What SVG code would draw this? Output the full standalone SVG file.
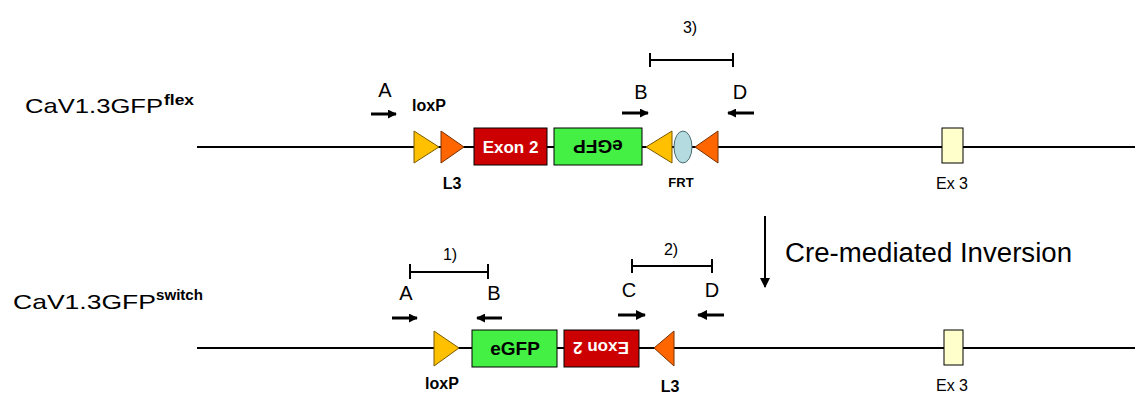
<svg xmlns="http://www.w3.org/2000/svg" width="1135" height="396" viewBox="0 0 1135 396">
<style>
text{font-family:"Liberation Sans",Arial,sans-serif;fill:#000}
.lbl{font-size:20px}
.num{font-size:16px}
.dna{stroke:#000;stroke-width:2;fill:none}
.br{stroke:#000;stroke-width:2;fill:none}
.pr{stroke:#000;stroke-width:3;fill:none}
.yel{fill:#FFC000;stroke:#7a5a00;stroke-width:1}
.ora{fill:#FF6600;stroke:#7a3000;stroke-width:1}
.red{fill:#CC0000;stroke:#000;stroke-width:1}
.grn{fill:#44F044;stroke:#000;stroke-width:1}
.ex3{fill:#FFFFCC;stroke:#000;stroke-width:1}
.frt{fill:#B4DCE0;stroke:#4a6a70;stroke-width:1}
.wt{fill:#fff;font-size:17px;font-weight:bold}
.bk{font-size:19px;font-weight:bold}
.tag{font-size:16px;font-weight:bold}
.ex{font-size:16px}
</style>
<defs>
<marker id="ah" viewBox="0 0 10 10" refX="9" refY="5" markerWidth="9" markerHeight="9" markerUnits="userSpaceOnUse" orient="auto"><path d="M0,0 L10,5 L0,10 Z" fill="#000"/></marker>
<marker id="ah2" viewBox="0 0 10 10" refX="9" refY="5" markerWidth="10" markerHeight="10" markerUnits="userSpaceOnUse" orient="auto"><path d="M0,0 L10,5 L0,10 Z" fill="#000"/></marker>
</defs>

<g id="labels">
<text x="25" y="113" font-size="21" textLength="138" lengthAdjust="spacingAndGlyphs">CaV1.3GFP</text>
<text x="164" y="105" font-size="15" font-weight="bold" textLength="30" lengthAdjust="spacingAndGlyphs">flex</text>
<text x="13" y="309" font-size="21" textLength="143" lengthAdjust="spacingAndGlyphs">CaV1.3GFP</text>
<text x="156" y="300" font-size="15" font-weight="bold" textLength="47" lengthAdjust="spacingAndGlyphs">switch</text>
</g>

<g id="connectors">
<line class="dna" x1="197" y1="147" x2="1135" y2="147"/>
<line class="dna" x1="197" y1="348" x2="1135" y2="348"/>
<line stroke="#000" stroke-width="2" x1="765" y1="216" x2="765" y2="287" marker-end="url(#ah2)"/>
</g>

<g id="cre-label"><text x="785" y="262" font-size="27" textLength="287" lengthAdjust="spacingAndGlyphs">Cre-mediated Inversion</text></g>

<g id="top-loxP1"><polygon class="yel" points="414,131 414,163 439,147"/></g>
<g id="top-L3a"><polygon class="ora" points="441,131 441,163 464,147"/></g>
<g id="top-exon2"><rect class="red" x="474" y="128" width="73" height="37"/><text class="wt" x="510.5" y="153" text-anchor="middle">Exon 2</text></g>
<g id="top-egfp"><rect class="grn" x="554" y="128" width="88" height="37"/><text class="bk" x="0" y="0" text-anchor="middle" transform="translate(598,140) rotate(180)">eGFP</text></g>
<g id="top-loxP2"><polygon class="yel" points="672,131 672,163 646,147"/></g>
<g id="top-FRT"><ellipse class="frt" cx="683" cy="147" rx="9" ry="16"/></g>
<g id="top-L3b"><polygon class="ora" points="718,131 718,163 695,147"/></g>
<g id="top-ex3"><rect class="ex3" x="942" y="128" width="21" height="35"/></g>

<g id="top-texts">
<text class="tag" x="429" y="111" text-anchor="middle">loxP</text>
<text class="tag" x="452" y="189" text-anchor="middle">L3</text>
<text x="681" y="187" font-size="13" font-weight="bold" text-anchor="middle">FRT</text>
<text class="ex" x="952" y="189" text-anchor="middle">Ex 3</text>
</g>

<g id="top-primers">
<text class="lbl" x="385" y="97" text-anchor="middle">A</text>
<line class="pr" x1="371" y1="114" x2="396" y2="114" marker-end="url(#ah)"/>
<text class="lbl" x="641" y="99" text-anchor="middle">B</text>
<line class="pr" x1="622" y1="113" x2="648" y2="113" marker-end="url(#ah)"/>
<text class="lbl" x="740" y="99" text-anchor="middle">D</text>
<line class="pr" x1="754" y1="113" x2="728" y2="113" marker-end="url(#ah)"/>
<path class="br" d="M650,60 H733 M650,53 V67 M733,53 V67"/>
<text class="num" x="690" y="33" text-anchor="middle">3)</text>
</g>

<g id="bot-loxP"><polygon class="yel" points="434,331 434,366 459,348"/></g>
<g id="bot-egfp"><rect class="grn" x="472" y="330" width="85" height="37"/><text class="bk" x="515" y="355" text-anchor="middle">eGFP</text></g>
<g id="bot-exon2"><rect class="red" x="564" y="330" width="75" height="37"/><text class="wt" x="0" y="0" text-anchor="middle" transform="translate(601,342) rotate(180)">Exon 2</text></g>
<g id="bot-L3"><polygon class="ora" points="674,331 674,366 654,348"/></g>
<g id="bot-ex3"><rect class="ex3" x="944" y="330" width="19" height="35"/></g>

<g id="bot-texts">
<text class="tag" x="442" y="389" text-anchor="middle">loxP</text>
<text class="tag" x="670" y="392" text-anchor="middle">L3</text>
<text class="ex" x="952" y="391" text-anchor="middle">Ex 3</text>
</g>

<g id="bot-primers">
<text class="lbl" x="406" y="300" text-anchor="middle">A</text>
<line class="pr" x1="392" y1="318" x2="417" y2="318" marker-end="url(#ah)"/>
<text class="lbl" x="494" y="300" text-anchor="middle">B</text>
<line class="pr" x1="502" y1="318" x2="477" y2="318" marker-end="url(#ah)"/>
<path class="br" d="M410,272 H488 M410,264 V279 M488,264 V279"/>
<text class="num" x="450" y="260" text-anchor="middle">1)</text>
<text class="lbl" x="629" y="297" text-anchor="middle">C</text>
<line class="pr" x1="618" y1="315" x2="645" y2="315" marker-end="url(#ah2)"/>
<text class="lbl" x="712" y="297" text-anchor="middle">D</text>
<line class="pr" x1="724" y1="315" x2="698" y2="315" marker-end="url(#ah2)"/>
<path class="br" d="M632,266 H712 M632,259 V273 M712,259 V273"/>
<text class="num" x="671" y="255" text-anchor="middle">2)</text>
</g>
</svg>
